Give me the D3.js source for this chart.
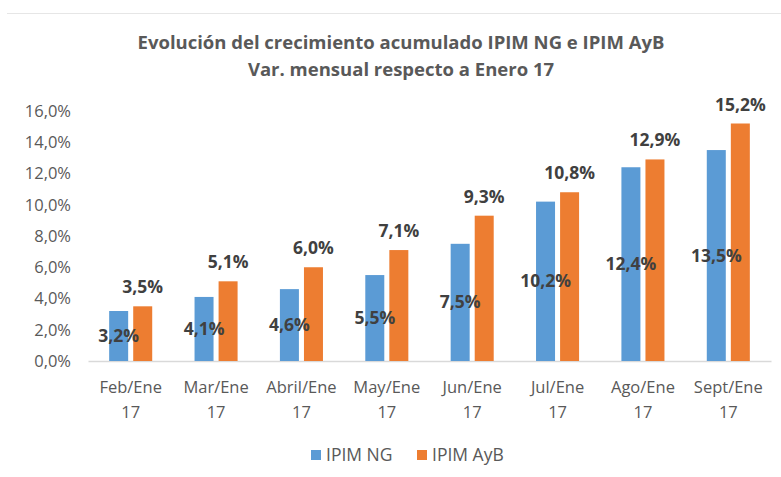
<!DOCTYPE html>
<html>
<head>
<meta charset="utf-8">
<script src="https://cdn.jsdelivr.net/npm/d3@7"></script>
<style>
  body { margin: 0; background: #fff; }
  svg { display: block; font-family: "Open Sans", sans-serif; }
</style>
</head>
<body>
<svg width="781" height="477"></svg>
<script>
// datos
var categorias = ["Feb/Ene", "Mar/Ene", "Abril/Ene", "May/Ene", "Jun/Ene", "Jul/Ene", "Ago/Ene", "Sept/Ene"];
var anio = "17";
var series = ["IPIM NG", "IPIM AyB"];
var ipimNG = [3.2, 4.1, 4.6, 5.5, 7.5, 10.2, 12.4, 13.5];
var ipimAyB = [3.5, 5.1, 6.0, 7.1, 9.3, 10.8, 12.9, 15.2];
var yTicks = [0, 2, 4, 6, 8, 10, 12, 14, 16];

var colores = ["#5B9BD5", "#ED7D31"];

var svg = d3.select("svg"),
    width = +svg.attr("width"),
    height = +svg.attr("height");

var locale = d3.formatLocale({decimal: ",", thousands: ".", grouping: [3], currency: ["", ""]});
var fmt = locale.format(".1f");

// marco del grafico
svg.append("line")
    .attr("x1", 7).attr("x2", width)
    .attr("y1", 13.5).attr("y2", 13.5)
    .style("stroke", "#e6e6e6");

// titulo
var titulo = svg.append("text")
    .attr("text-anchor", "middle")
    .style("font-weight", "bold")
    .style("font-size", "18.5px")
    .style("fill", "#595959");
titulo.append("tspan").attr("x", 401).attr("y", 49).text("Evolución del crecimiento acumulado IPIM NG e IPIM AyB");
titulo.append("tspan").attr("x", 401).attr("y", 76).text("Var. mensual respecto a Enero 17");

// escalas
var x0 = d3.scaleBand().domain(categorias).range([88, 771]);
var x1 = d3.scaleBand().domain(series).range([0, x0.bandwidth()]).paddingInner(0.21).paddingOuter(0.88);
var y = d3.scaleLinear().domain([0, 16]).range([361, 111]);

// eje y
var yAxis = svg.append("g")
    .attr("transform", "translate(88,0)")
    .call(d3.axisLeft(y).tickValues(yTicks).tickFormat(function(d) { return fmt(d) + "%"; }).tickSize(0).tickPadding(17));
yAxis.select(".domain").remove();
yAxis.selectAll("text")
    .style("font-family", "'Open Sans', sans-serif")
    .style("font-size", "16.5px")
    .style("fill", "#595959");

// eje x
var xAxis = svg.append("g")
    .attr("transform", "translate(0,361)")
    .call(d3.axisBottom(x0).tickSize(0).tickFormat(""));
xAxis.select(".domain").style("stroke", "#d9d9d9").style("stroke-width", 1.3);
xAxis.selectAll(".tick text").remove();

var etiquetasX = svg.append("g").selectAll("text")
    .data(categorias)
    .enter().append("text")
    .attr("text-anchor", "middle")
    .style("font-size", "16.5px")
    .style("fill", "#595959");
etiquetasX.append("tspan")
    .attr("x", function(d) { return x0(d) + x0.bandwidth() / 2; })
    .attr("y", 393)
    .text(function(d) { return d; });
etiquetasX.append("tspan")
    .attr("x", function(d) { return x0(d) + x0.bandwidth() / 2; })
    .attr("y", 418)
    .text(anio);

// barras
var datos = categorias.map(function(c, i) {
    return [{cat: c, serie: series[0], v: ipimNG[i]}, {cat: c, serie: series[1], v: ipimAyB[i]}];
});

var grupos = svg.append("g").selectAll("g")
    .data(datos)
    .enter().append("g")
    .attr("transform", function(d) { return "translate(" + x0(d[0].cat) + ",0)"; });

grupos.selectAll("rect")
    .data(function(d) { return d; })
    .enter().append("rect")
    .attr("x", function(d) { return x1(d.serie); })
    .attr("width", x1.bandwidth())
    .attr("y", function(d) { return y(d.v); })
    .attr("height", function(d) { return y(0) - y(d.v); })
    .attr("fill", function(d, i) { return colores[i]; });

// etiquetas de datos
grupos.selectAll("text")
    .data(function(d) { return d; })
    .enter().append("text")
    .attr("text-anchor", "middle")
    .attr("x", function(d) { return x1(d.serie) + x1.bandwidth() / 2; })
    .attr("y", function(d, i) {
        if (i === 0) return (y(d.v) + y(0)) / 2 + 6;
        return y(d.v) - 13;
    })
    .style("font-size", "17.5px")
    .style("font-weight", "bold")
    .style("fill", "#404040")
    .text(function(d) { return fmt(d.v) + "%"; });

// leyenda
var leyenda = svg.append("g").selectAll("g")
    .data(series)
    .enter().append("g")
    .attr("transform", function(d, i) { return "translate(" + (i === 0 ? 311 : 417) + ",0)"; });
leyenda.append("rect")
    .attr("y", 450).attr("width", 10).attr("height", 10)
    .attr("fill", function(d, i) { return colores[i]; });
leyenda.append("text")
    .attr("x", 15).attr("y", 461)
    .style("font-size", "17.5px")
    .style("fill", "#595959")
    .text(function(d) { return d; });
</script>
</body>
</html>
